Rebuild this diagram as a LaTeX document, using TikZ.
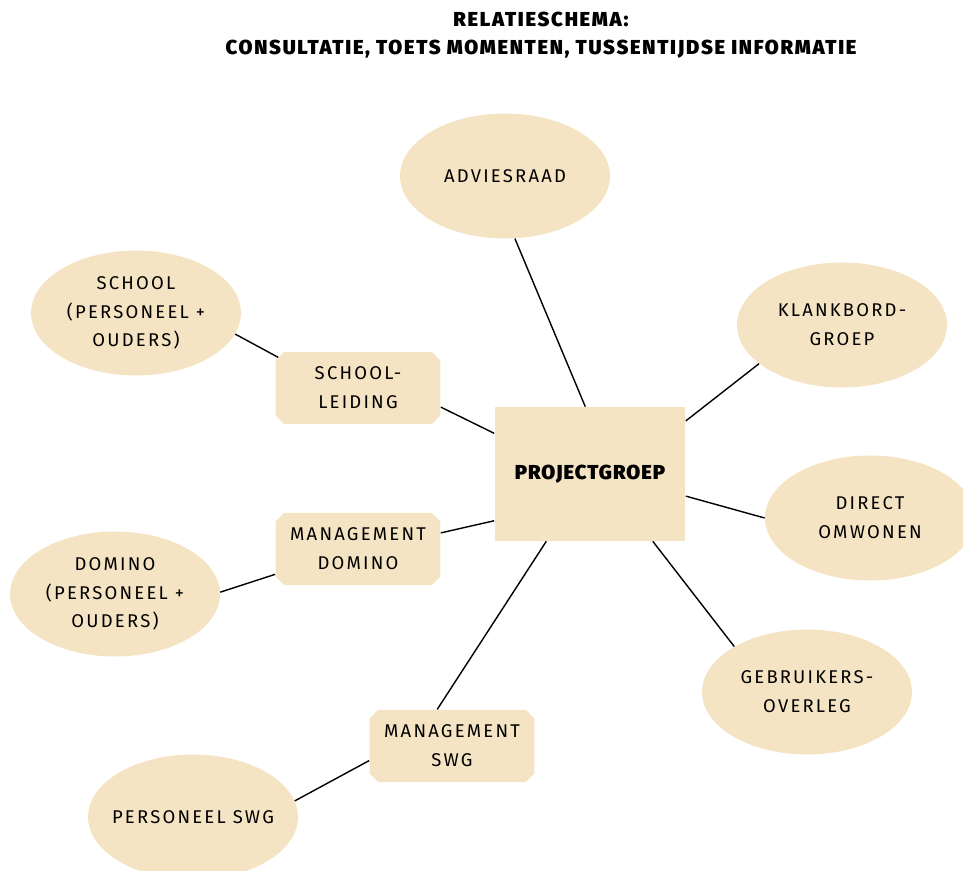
\documentclass[tikz,border=0pt]{standalone}
\usepackage{fontspec}
\usepackage{tikz}
\usetikzlibrary{shapes.geometric,shapes.misc}
\newfontfamily\bodyfont{Fira Sans}[LetterSpace=12]
\newfontfamily\headfont{Fira Sans}[BoldFont={Fira Sans Black}, LetterSpace=5]
\newfontfamily\titlefont{Fira Sans Black}[LetterSpace=8.5]
\definecolor{sand}{HTML}{F5E4C3}

\begin{document}
\begin{tikzpicture}[
		x = 0.02cm,
		y = -0.02cm,
		party/.style = {
			ellipse,
			fill = sand,
			minimum width = 4.2cm,
			minimum height = 2.5cm,
			inner xsep = -8pt,
			inner ysep = 0pt,
			align = center,
			font = \bodyfont\fontsize{10.5}{16.4}\selectfont,
		},
		board/.style = {
			chamfered rectangle,
			chamfered rectangle xsep = 2.5pt,
			chamfered rectangle ysep = 2.5pt,
			fill = sand,
			minimum width = 3.3cm,
			minimum height = 1.45cm,
			inner sep = 0pt,
			align = center,
			font = \bodyfont\fontsize{10.5}{16.4}\selectfont,
		},
		link/.style = {
			line width = 0.8pt,
		}
	]
	\useasboundingbox (0,0) rectangle (963,871);

	\node [align = center, font = \titlefont\fontsize{11.5}{16}\selectfont] (title) at (541,35)
		{RELATIESCHEMA:\\CONSULTATIE, TOETS MOMENTEN, TUSSENTIJDSE INFORMATIE};

	\node [rectangle, fill = sand, minimum width = 3.82cm, minimum height = 2.68cm,
		font = \headfont\bfseries\fontsize{11.5}{14}\selectfont] (projectGroep) at (590,474) {PROJECTGROEP};

	\node [party] (adviesRaad) at (505,176) {ADVIESRAAD};
	\node [party] (klankBord) at (842,325) {KLANKBORD-\\GROEP};
	\node [party] (direct) at (870,518) {DIRECT\\OMWONEN};
	\node [party] (gebruikers) at (807,692) {GEBRUIKERS-\\OVERLEG};

	\node [board] (schoolLeiding) at (358,388) {SCHOOL-\\LEIDING};
	\node [board] (mgmtDomino) at (358,549) {MANAGEMENT\\DOMINO};
	\node [board] (mgmtSwg) at (452,746) {MANAGEMENT\\SWG};

	\node [party] (school) at (136,313) {SCHOOL\\(PERSONEEL +\\OUDERS)};
	\node [party] (domino) at (115,594) {DOMINO\\(PERSONEEL +\\OUDERS)};
	\node [party] (personeelSwg) at (193,817) {PERSONEEL SWG};

	\draw [link] (adviesRaad.-81) to (projectGroep.94);
	\draw [link] (klankBord.205) to (projectGroep.29);
	\draw [link] (direct.180) to (projectGroep.-13);
	\draw [link] (gebruikers.148) to (projectGroep.-47);

	\draw [link] (schoolLeiding.-13) to (projectGroep.157);
	\draw [link] (mgmtDomino.11) to (projectGroep.206);
	\draw [link] (mgmtSwg.112) to (projectGroep.237);

	\draw [link] (school.-12) to (schoolLeiding.159);
	\draw [link] (domino.1) to (mgmtDomino.197);
	\draw [link] (personeelSwg.9) to (mgmtSwg.190);
\end{tikzpicture}
\end{document}
